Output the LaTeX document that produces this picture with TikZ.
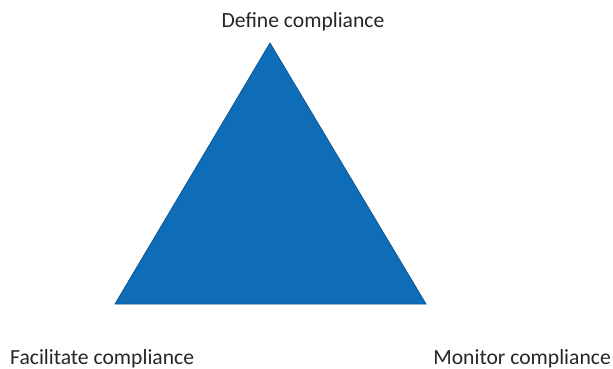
\documentclass[tikz,border=0pt]{standalone}
\usepackage{fontspec}
\setmainfont{Carlito}
\usetikzlibrary{positioning}
\definecolor{triblue}{HTML}{0F6DB7}
\definecolor{triedge}{HTML}{0A5796}
\tikzset{label text/.style = {font=\fontsize{21.6}{26}\selectfont, text=black!85, inner sep=0pt}}

\begin{document}
\begin{tikzpicture}[x=1pt, y=-1pt]
    \useasboundingbox (0, 0) rectangle (613, 369);

    \coordinate (top) at (270, 43);
    \coordinate (left) at (115, 304);
    \coordinate (right) at (426, 304);
    \draw [fill=triblue, draw=triedge, line width=0.8pt] (top) -- (left) -- (right) -- cycle;

    \node [label text, anchor=base] (define) at (303, 28) {Define compliance};
    \node [label text, anchor=base west] (facilitate) at (10, 364) {Facilitate compliance};
    \node [label text, anchor=base east] (monitor) at (611, 364) {Monitor compliance};
\end{tikzpicture}
\end{document}
